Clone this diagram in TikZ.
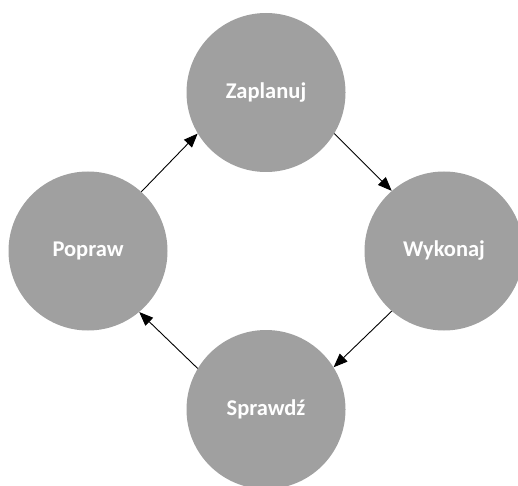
\documentclass[tikz,border=0pt]{standalone}
\usepackage{fontspec}
\setmainfont{Carlito}
\usetikzlibrary{arrows.meta}
\definecolor{krok}{HTML}{A0A0A0}
\begin{document}
\begin{tikzpicture}[x=1pt,y=1pt]
        \tikzstyle{every node}=[fill=krok,circle,inner sep=0pt,minimum size=159pt,text=white,font=\fontsize{22.5}{26}\selectfont\bfseries]
        \tikzstyle{strzalka}=[-{Triangle[length=14pt,width=11pt]},line width=0.9pt]
        \useasboundingbox (0,0) rectangle (518,485);
        \node (zaplanuj) at (266,392.5) {Zaplanuj};
        \node (wykonaj) at (444,234) {Wykonaj};
        \node (sprawdz) at (266,75.5) {Sprawdź};
        \node (popraw) at (88,234) {Popraw};
        \draw[strzalka] (zaplanuj.329) -- (wykonaj.131);
        \draw[strzalka] (wykonaj.229) -- (sprawdz.32);
        \draw[strzalka] (sprawdz.149) -- (popraw.310);
        \draw[strzalka] (popraw.48) -- (zaplanuj.211);
    \end{tikzpicture}
\end{document}
